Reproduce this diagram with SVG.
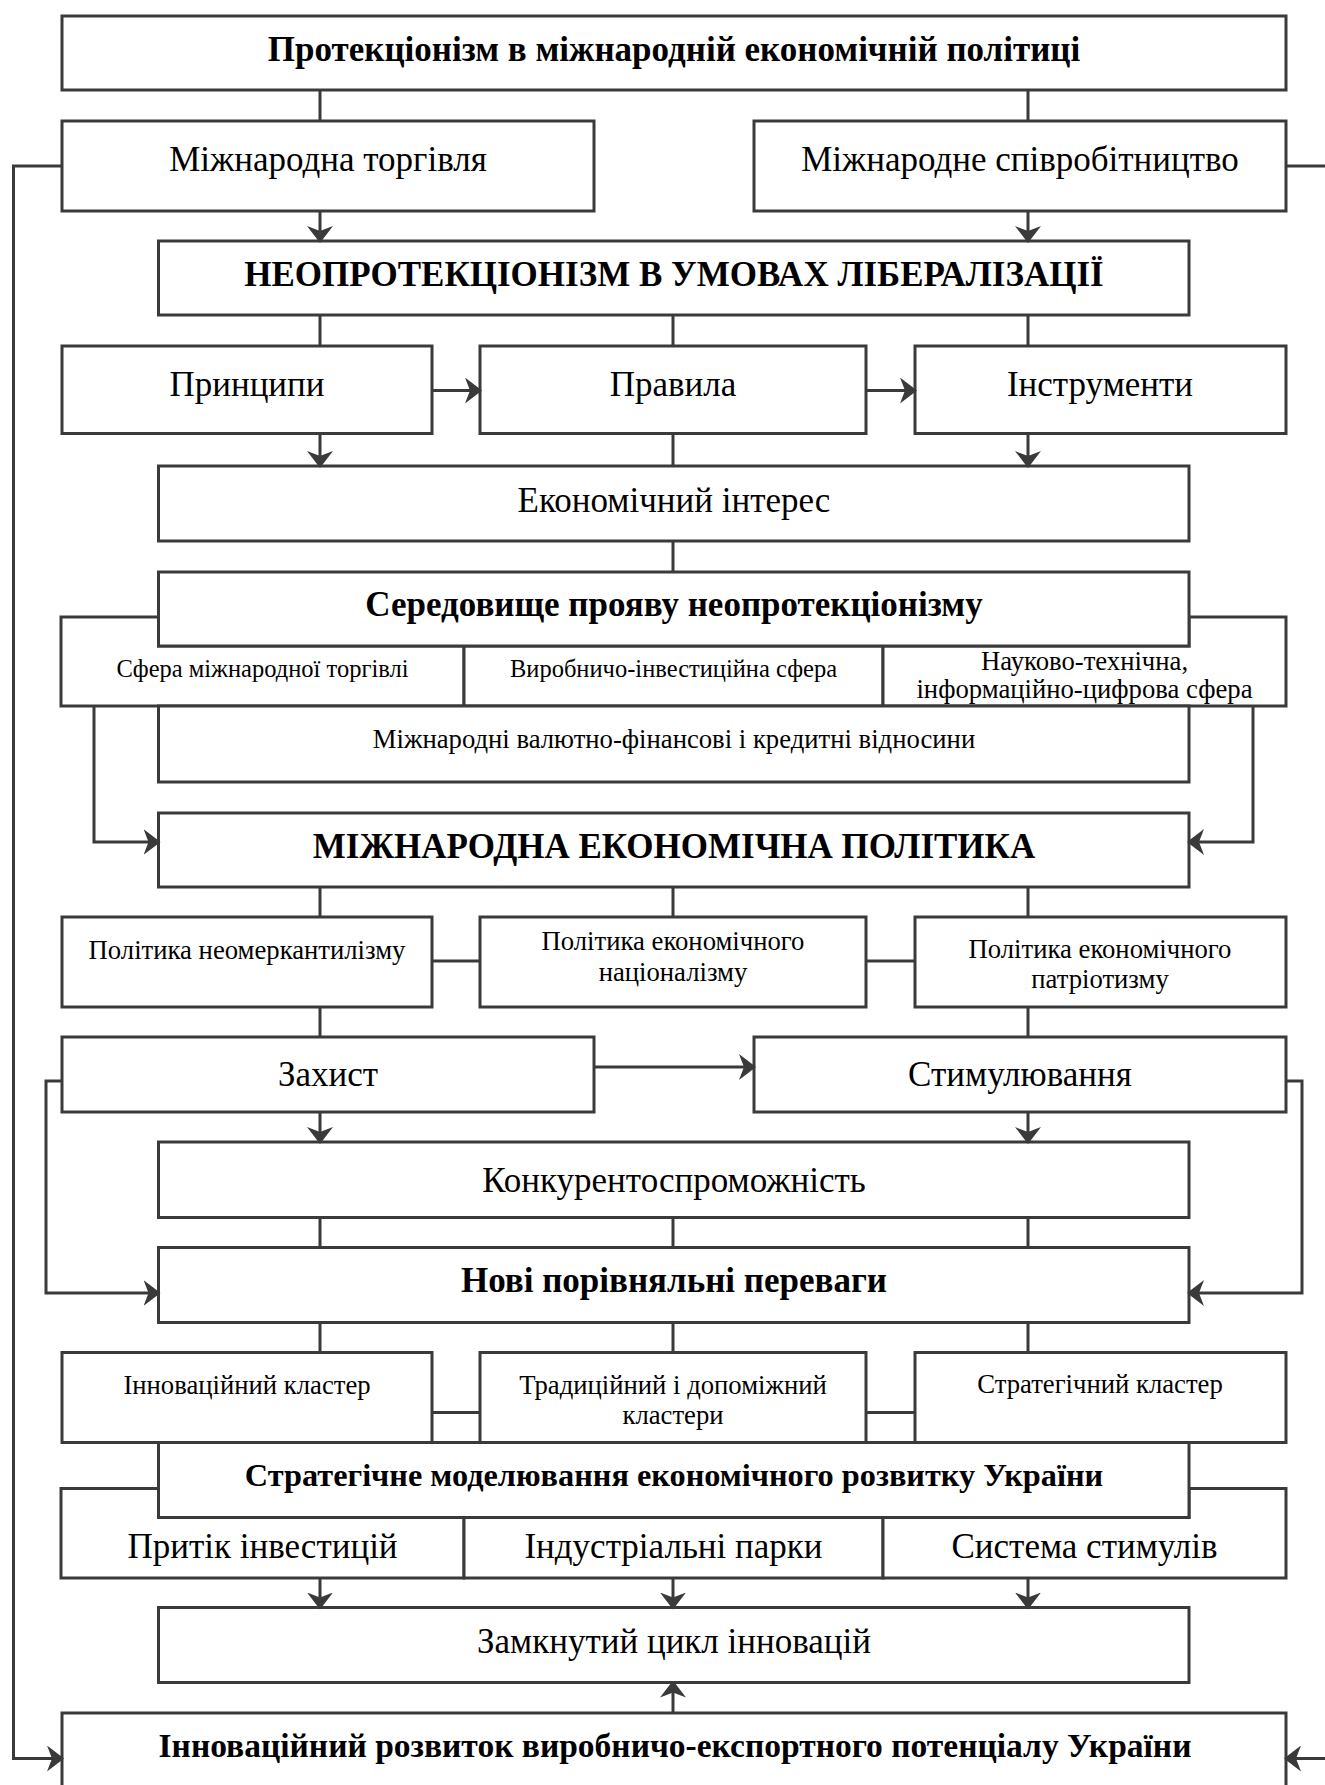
<svg xmlns="http://www.w3.org/2000/svg" width="1325" height="1785" viewBox="0 0 1325 1785">
<defs>
<style>
.b{fill:#fff;stroke:#3a3a3a;stroke-width:3}
.c{fill:none;stroke:#3a3a3a;stroke-width:3}
.a{marker-end:url(#ah)}
text{font-family:"Liberation Serif","Times New Roman",serif;fill:#000;text-anchor:middle}
.L{font-size:35px}
.S{font-size:24.5px}
.M{font-size:26.7px}
.T{font-size:35px;font-weight:bold}
.H{font-size:35px;font-weight:bold}
</style>
<marker id="ah" markerUnits="userSpaceOnUse" markerWidth="17" markerHeight="26" viewBox="0 0 17 26" refX="15" refY="13" orient="auto">
<path d="M0,0 L17,13 L0,26 L5,13 Z" fill="#3a3a3a"/>
</marker>
</defs>
<rect width="1325" height="1785" fill="#fff"/>

<g id="n-top"><rect class="b" x="62" y="16" width="1224" height="74"/><text class="T" x="674" y="61">Протекціонізм в міжнародній економічній політиці</text></g>
<g id="n-trade"><rect class="b" x="62" y="121" width="532" height="90"/><text class="L" x="328" y="171">Міжнародна торгівля</text></g>
<g id="n-coop"><rect class="b" x="754" y="121" width="532" height="90"/><text class="L" x="1020" y="171">Міжнародне співробітництво</text></g>
<g id="n-neo"><rect class="b" x="158.5" y="241" width="1030.5" height="74"/><text class="H" x="674" y="286">НЕОПРОТЕКЦІОНІЗМ В УМОВАХ ЛІБЕРАЛІЗАЦІЇ</text></g>
<g id="n-princ"><rect class="b" x="62" y="346" width="370" height="87.5"/><text class="L" x="247" y="396">Принципи</text></g>
<g id="n-rules"><rect class="b" x="480" y="346" width="386" height="87.5"/><text class="L" x="673" y="396">Правила</text></g>
<g id="n-instr"><rect class="b" x="915" y="346" width="371" height="87.5"/><text class="L" x="1100" y="396">Інструменти</text></g>
<g id="n-interest"><rect class="b" x="158.5" y="466" width="1030.5" height="75"/><text class="L" x="674" y="512">Економічний інтерес</text></g>

<g id="n-sph1"><path class="b" d="M61,617 H158.5 V646 H464 V706 H61 Z"/><text class="S" x="262.5" y="677">Сфера міжнародної торгівлі</text></g>
<g id="n-sph2"><rect class="b" x="464" y="646" width="419" height="60"/><text class="S" x="673.5" y="677">Виробничо-інвестиційна сфера</text></g>
<g id="n-sph3"><path class="b" d="M883,646 H1189 V617 H1286 V706 H883 Z"/><text class="M" x="1084.5" y="670">Науково-технічна,</text><text class="M" x="1084.5" y="698">інформаційно-цифрова сфера</text></g>
<g id="n-env"><rect class="b" x="158.5" y="572" width="1030.5" height="74"/><text class="T" x="674" y="616">Середовище прояву неопротекціонізму</text></g>
<g id="n-fin"><rect class="b" x="158.5" y="706" width="1030.5" height="76"/><text class="M" x="674" y="748">Міжнародні валютно-фінансові і кредитні відносини</text></g>

<g id="n-mep"><rect class="b" x="158.5" y="813" width="1030.5" height="74"/><text class="H" x="674" y="858">МІЖНАРОДНА ЕКОНОМІЧНА ПОЛІТИКА</text></g>
<g id="n-pol1"><rect class="b" x="62" y="917" width="370" height="90"/><text class="M" x="247" y="959">Політика неомеркантилізму</text></g>
<g id="n-pol2"><rect class="b" x="480" y="917" width="386" height="90"/><text class="M" x="673" y="950">Політика економічного</text><text class="M" x="673" y="981">націоналізму</text></g>
<g id="n-pol3"><rect class="b" x="915" y="917" width="371" height="90"/><text class="M" x="1100" y="958">Політика економічного</text><text class="M" x="1100" y="988">патріотизму</text></g>
<g id="n-prot"><rect class="b" x="62" y="1037" width="532" height="75"/><text class="L" x="328" y="1086">Захист</text></g>
<g id="n-stim"><rect class="b" x="754" y="1037" width="532" height="75"/><text class="L" x="1020" y="1086">Стимулювання</text></g>
<g id="n-comp"><rect class="b" x="158.5" y="1142" width="1030.5" height="75.5"/><text class="L" x="674" y="1192">Конкурентоспроможність</text></g>
<g id="n-adv"><rect class="b" x="158.5" y="1247.5" width="1030.5" height="75"/><text class="T" x="674" y="1292">Нові порівняльні переваги</text></g>
<g id="n-cl1"><rect class="b" x="62" y="1352.5" width="370" height="90"/><text class="M" x="247" y="1394">Інноваційний кластер</text></g>
<g id="n-cl2"><rect class="b" x="480" y="1352.5" width="386" height="90"/><text class="M" x="673" y="1394">Традиційний і допоміжний</text><text class="M" x="673" y="1424">кластери</text></g>
<g id="n-cl3"><rect class="b" x="915" y="1352.5" width="371" height="90"/><text class="M" x="1100" y="1393">Стратегічний кластер</text></g>

<g id="n-row1"><path class="b" d="M61,1488.5 H158.5 V1517.5 H464 V1578 H61 Z"/><text class="L" x="262.5" y="1558">Притік інвестицій</text></g>
<g id="n-row2"><rect class="b" x="464" y="1517.5" width="419" height="60.5"/><text class="L" x="673.5" y="1558">Індустріальні парки</text></g>
<g id="n-row3"><path class="b" d="M883,1517.5 H1189 V1488.5 H1286 V1578 H883 Z"/><text class="L" x="1084.5" y="1558">Система стимулів</text></g>
<g id="n-strat"><rect class="b" x="158.5" y="1442.5" width="1030.5" height="75"/><text class="T" x="674" y="1486" style="font-size:32.3px">Стратегічне моделювання економічного розвитку України</text></g>
<g id="n-cycle"><rect class="b" x="158.5" y="1607.5" width="1030.5" height="75"/><text class="L" x="674" y="1653">Замкнутий цикл інновацій</text></g>
<g id="n-dev"><rect class="b" x="62" y="1713" width="1224" height="100"/><text class="T" x="675" y="1757" style="font-size:33.5px">Інноваційний розвиток виробничо-експортного потенціалу України</text></g>

<g id="connectors">
<path class="c" d="M320,90 V121 M1028,90 V121"/>
<path class="c a" d="M320,211 V241"/>
<path class="c a" d="M1028,211 V241"/>
<path class="c" d="M320,315 V346 M673,315 V346 M1028,315 V346"/>
<path class="c a" d="M432,390.5 H480"/>
<path class="c a" d="M866,390.5 H915"/>
<path class="c a" d="M320,433.5 V466"/>
<path class="c" d="M673,433.5 V466"/>
<path class="c a" d="M1028,433.5 V466"/>
<path class="c" d="M673,541 V572"/>
<path class="c a" d="M94,706 V842 H158.5"/>
<path class="c a" d="M1253,706 V842 H1189"/>
<path class="c" d="M320,887 V917 M673,887 V917 M1028,887 V917"/>
<path class="c" d="M432,961 H480 M866,961 H915"/>
<path class="c" d="M320,1007 V1037 M1028,1007 V1037"/>
<path class="c a" d="M594,1067 H754"/>
<path class="c a" d="M320,1112 V1142"/>
<path class="c a" d="M1028,1112 V1142"/>
<path class="c a" d="M62,1081 H46 V1293 H158.5"/>
<path class="c a" d="M1286,1081 H1302 V1293 H1189"/>
<path class="c" d="M320,1217.5 V1247.5 M673,1217.5 V1247.5 M1028,1217.5 V1247.5"/>
<path class="c" d="M320,1322.5 V1352.5 M673,1322.5 V1352.5 M1028,1322.5 V1352.5"/>
<path class="c" d="M432,1412.5 H480 M866,1412.5 H915"/>
<path class="c a" d="M320,1578 V1607.5"/>
<path class="c a" d="M673,1578 V1607.5"/>
<path class="c a" d="M1028,1578 V1607.5"/>
<path class="c a" d="M673,1713 V1682.5"/>
<path class="c a" d="M62,166 H13.5 V1758.5 H62"/>
<path class="c a" d="M1286,166 H1330 V1758.5 H1286"/>
</g>
</svg>
